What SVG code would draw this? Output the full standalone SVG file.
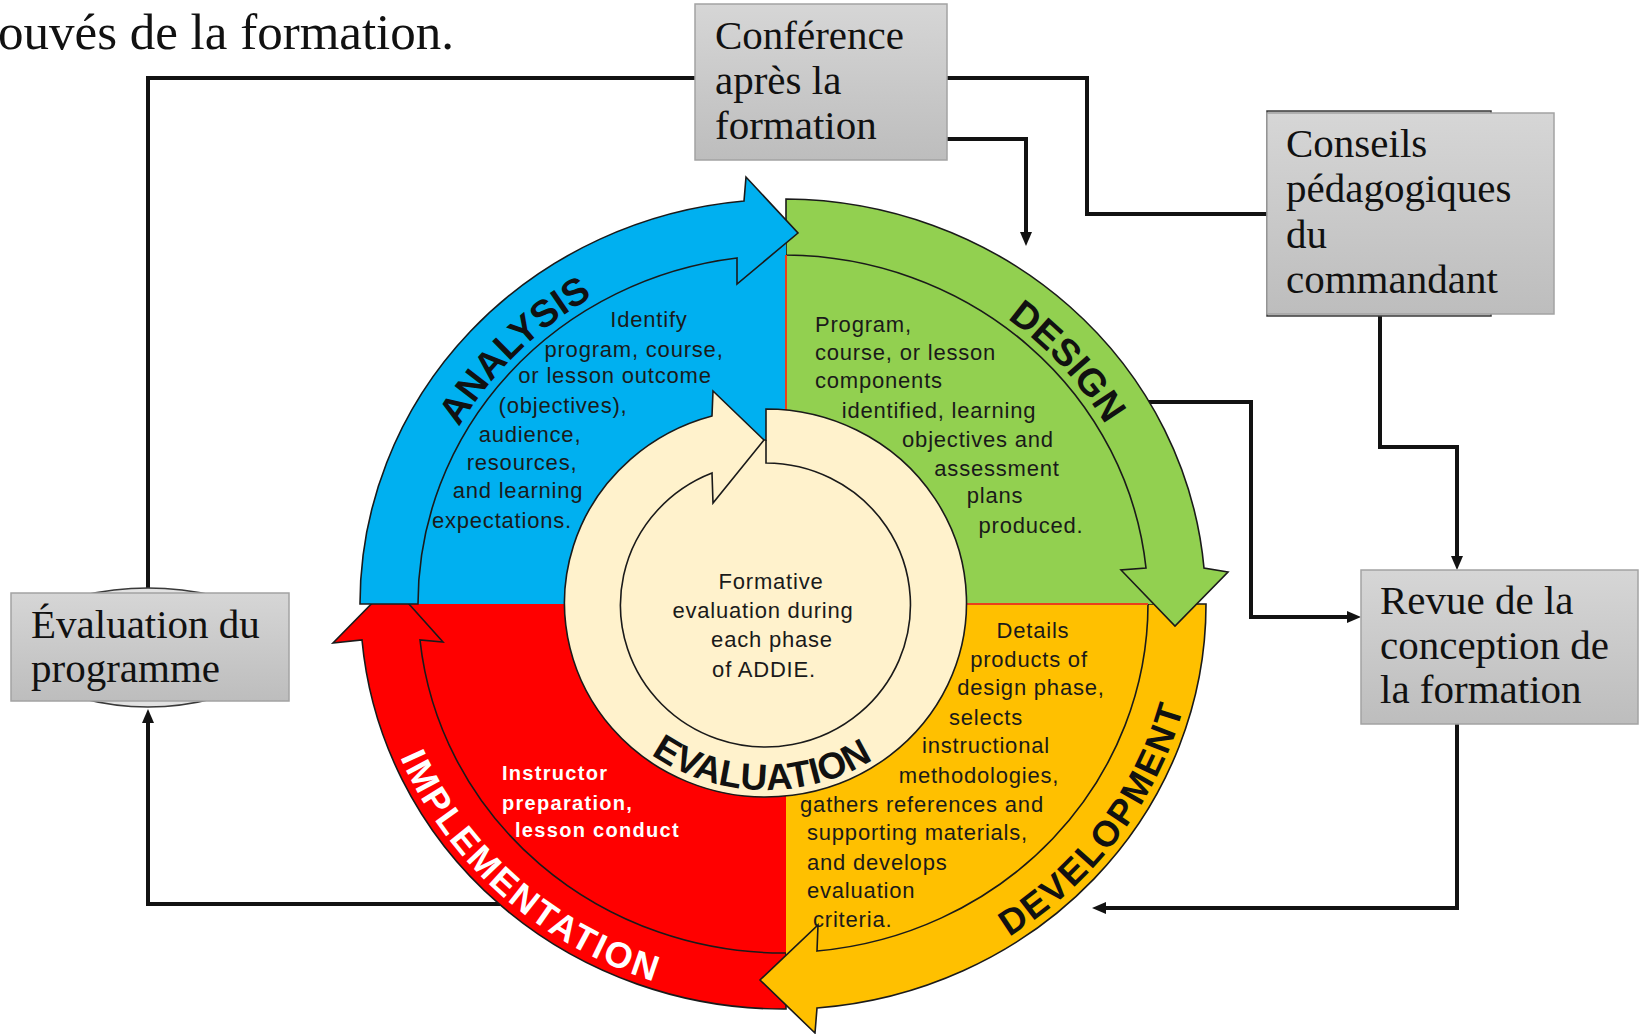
<svg xmlns="http://www.w3.org/2000/svg" width="1639" height="1034" viewBox="0 0 1639 1034">
<style>
.box{fill:url(#gbox);stroke:#A3A3A3;stroke-width:1.5}
.bt{font-family:"Liberation Serif","Times New Roman",serif;font-size:41px;fill:#111}
.top{font-family:"Liberation Serif","Times New Roman",serif;font-size:51px;fill:#111}
.conn{fill:none;stroke:#121212;stroke-width:4}
.arr{marker-end:url(#ah)}
.ol{fill:none;stroke:#1a1a1a;stroke-width:1.6}
.body{font-family:"Liberation Sans",Arial,sans-serif;font-size:22px;letter-spacing:0.8px;fill:#1a1a1a}
.mid{text-anchor:middle}
.wb{font-family:"Liberation Sans",Arial,sans-serif;font-size:20px;font-weight:bold;letter-spacing:1.3px;fill:#fff}
.lab{font-family:"Liberation Sans",Arial,sans-serif;font-weight:bold;fill:#111;text-anchor:middle}
</style>
<defs>
<linearGradient id="gbox" x1="0" y1="0" x2="0" y2="1">
<stop offset="0" stop-color="#D6D6D6"/>
<stop offset="1" stop-color="#BDBDBD"/>
</linearGradient>
<marker id="ah" viewBox="0 0 14 12" refX="8" refY="6" markerWidth="14" markerHeight="12" markerUnits="userSpaceOnUse" orient="auto">
<path d="M0,0 L14,6 L0,12 Z" fill="#121212"/>
</marker>
<path id="pA" d="M410 604 A373 357 0 0 1 783 247"/>
<path id="pD" d="M783 247 A373 357 0 0 1 1156 604"/>
<path id="pDev" d="M783 1001 A415 397 0 0 0 1198 604"/>
<path id="pImp" d="M368 604 A415 397 0 0 0 783 1001"/>
<path id="pEval" d="M570 603 A196 187 0 0 0 962 603"/>
</defs>
<rect width="1639" height="1034" fill="#fff"/>

<text class="top" x="-2" y="49">ouvés de la formation.</text>

<g id="connectors">
<path class="conn" d="M148 592 V78 H1087 V214 H1267"/>
<path class="conn arr" d="M947 139 H1026 V240"/>
<path class="conn arr" d="M1145 402 H1251 V617 H1355"/>
<path class="conn arr" d="M1380 314 V447 H1457 V564"/>
<path class="conn arr" d="M1457 724 V908 H1098"/>
<path class="conn arr" d="M500 904 H148 V715"/>
</g>

<g id="addie-cycle">
<g id="implementation">
<path d="M786 604 L786 1009 A423 405 0 0 1 362 640 L333 643 L391 584 L411 604 Z" fill="#FF0000"/>
<path class="ol" d="M786 1009 A423 405 0 0 1 362 640 L333 643 L391 584 L443 642 L420 640 A365 349 0 0 0 786 953 Z"/>
<text class="lab" font-size="36" letter-spacing="2.3" style="fill:#fff"><textPath href="#pImp" startOffset="333">IMPLEMENTATION</textPath></text>
<text class="wb" x="502" y="780">Instructor</text>
<text class="wb" x="502" y="810">preparation,</text>
<text class="wb" x="515" y="837">lesson conduct</text>
</g>
<g id="development">
<path d="M786 604 L1206 604 A423 405 0 0 1 817 1008 L815 1033 L760 980 L786 955 Z" fill="#FFC000"/>
<path class="ol" d="M1206 604 A423 405 0 0 1 817 1008 L815 1033 L760 980 L818 925 L817 951 A365 349 0 0 0 1148 604 Z"/>
<text class="lab" font-size="36" letter-spacing="2"><textPath href="#pDev" startOffset="386">DEVELOPMENT</textPath></text>
<text class="body mid" x="1033" y="638">Details</text>
<text class="body mid" x="1029" y="667">products of</text>
<text class="body mid" x="1031" y="695">design phase,</text>
<text class="body mid" x="986" y="725">selects</text>
<text class="body mid" x="986" y="753">instructional</text>
<text class="body mid" x="979" y="783">methodologies,</text>
<text class="body mid" x="922" y="812">gathers references and</text>
<text class="body" x="807" y="840">supporting materials,</text>
<text class="body" x="807" y="870">and develops</text>
<text class="body" x="807" y="898">evaluation</text>
<text class="body" x="813" y="927">criteria.</text>
</g>
<g id="design">
<path d="M786 604 L786 199 A423 405 0 0 1 1204 568 L1228 572 L1175 626 L1153 604 Z" fill="#92D050"/>
<path class="ol" d="M786 199 A423 405 0 0 1 1204 568 L1228 572 L1175 626 L1121 570 L1146 568 A365 349 0 0 0 786 255 Z"/>
<text class="lab" font-size="38"><textPath href="#pD" startOffset="312">DESIGN</textPath></text>
<text class="body" x="815" y="332">Program,</text>
<text class="body" x="815" y="360">course, or lesson</text>
<text class="body" x="815" y="388">components</text>
<text class="body mid" x="939" y="418">identified, learning</text>
<text class="body mid" x="978" y="447">objectives and</text>
<text class="body mid" x="997" y="476">assessment</text>
<text class="body mid" x="995" y="503">plans</text>
<text class="body mid" x="1031" y="533">produced.</text>
</g>
<g id="analysis">
<path d="M786 604 L360 604 A423 405 0 0 1 744 201 L746 177 L798 233 L786 243 Z" fill="#00B0F0"/>
<path class="ol" d="M360 604 A423 405 0 0 1 744 201 L746 177 L798 233 L737 284 L737 258 A365 349 0 0 0 418 604 Z"/>
<text class="lab" font-size="38"><textPath href="#pA" startOffset="280">ANALYSIS</textPath></text>
<text class="body mid" x="649" y="327">Identify</text>
<text class="body mid" x="634" y="357">program, course,</text>
<text class="body mid" x="615" y="383">or lesson outcome</text>
<text class="body mid" x="563" y="413">(objectives),</text>
<text class="body mid" x="530" y="442">audience,</text>
<text class="body mid" x="522" y="470">resources,</text>
<text class="body mid" x="518" y="498">and learning</text>
<text class="body mid" x="502" y="528">expectations.</text>
</g>
<path d="M786 255 V604 H1148" fill="none" stroke="#E8401C" stroke-width="2"/>
<g id="evaluation">
<path d="M766 409 A201 194 0 1 1 712 416 L713 391 L764 440 L766 440 Z" fill="#FFF2CC" stroke="#1a1a1a" stroke-width="1.6"/>
<path class="ol" d="M766 440 L766 463 A145 142 0 1 1 712 473 L713 503 L764 440"/>
<text class="lab" font-size="37"><textPath href="#pEval" startOffset="296">EVALUATION</textPath></text>
<text class="body mid" x="771" y="589">Formative</text>
<text class="body mid" x="763" y="618">evaluation during</text>
<text class="body mid" x="772" y="647">each phase</text>
<text class="body mid" x="764" y="677">of ADDIE.</text>
</g>
</g>

<g id="conference">
<rect class="box" x="695" y="4" width="252" height="156"/>
<text class="bt" x="715" y="49">Conférence</text>
<text class="bt" x="715" y="94">après la</text>
<text class="bt" x="715" y="139">formation</text>
</g>
<g id="conseils">
<rect x="1267" y="111" width="224" height="205" fill="#C9C9C9" stroke="#3a3a3a" stroke-width="1.5"/>
<rect class="box" x="1267" y="113" width="287" height="201"/>
<text class="bt" x="1286" y="157">Conseils</text>
<text class="bt" x="1286" y="202">pédagogiques</text>
<text class="bt" x="1286" y="248">du</text>
<text class="bt" x="1286" y="293">commandant</text>
</g>
<g id="revue">
<rect class="box" x="1361" y="570" width="277" height="154"/>
<text class="bt" x="1380" y="614">Revue de la</text>
<text class="bt" x="1380" y="659">conception de</text>
<text class="bt" x="1380" y="703">la formation</text>
</g>
<g id="evaluation-programme">
<path d="M80 596 Q148 580 216 596 Z" fill="#E2E2E2" stroke="#3a3a3a" stroke-width="1.5"/>
<path d="M80 698 Q148 716 216 698 Z" fill="#E2E2E2" stroke="#3a3a3a" stroke-width="1.5"/>
<rect class="box" x="11" y="593" width="278" height="108"/>
<text class="bt" x="31" y="638">Évaluation du</text>
<text class="bt" x="31" y="682">programme</text>
</g>
</svg>
